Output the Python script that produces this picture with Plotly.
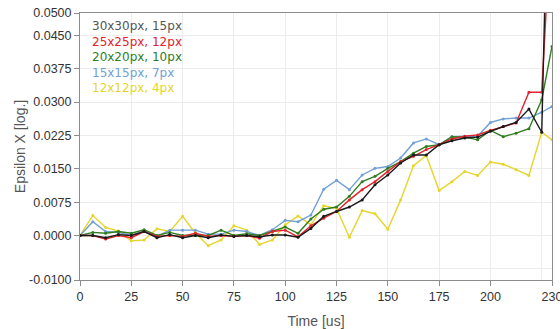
import plotly.graph_objects as go

time_us = [0, 6.25, 12.5, 18.75, 25, 31.25, 37.5, 43.75, 50, 56.25, 62.5, 68.75,
           75, 81.25, 87.5, 93.75, 100, 106.25, 112.5, 118.75, 125, 131.25, 137.5,
           143.75, 150, 156.25, 162.5, 168.75, 175, 181.25, 187.5, 193.75, 200,
           206.25, 212.5, 218.75, 225, 230]

s30 = [0, 0, -0.0005, 0.0002, 0, 0.0009, -0.0005, 0.0002, -0.0005, 0, -0.0005, 0.0001,
       -0.0002, 0, -0.0003, 0.0001, 0.0001, -0.0004, 0.0016, 0.0043, 0.0054, 0.0064,
       0.008, 0.0114, 0.0136, 0.0163, 0.0181, 0.0181, 0.0204, 0.0213, 0.0219, 0.0221,
       0.0234, 0.0245, 0.0254, 0.0284, 0.0232, 0.12]
s25 = [0, 0, -0.0008, 0, -0.0005, 0.0009, -0.0002, 0, -0.0002, 0.0005, -0.0002, 0,
       -0.0002, 0, -0.0006, 0.0009, 0.0012, -0.0003, 0.0022, 0.0039, 0.0054, 0.008,
       0.0103, 0.0121, 0.0144, 0.0166, 0.0178, 0.0193, 0.0204, 0.0217, 0.0223, 0.0226,
       0.0236, 0.0245, 0.0253, 0.0322, 0.0322, 0.075]
s20 = [0, 0.0007, 0.0005, 0.0009, 0.0005, 0.0013, 0, 0.0007, 0, 0.0001, 0, 0.0012,
       0, 0.0004, 0, 0.0009, 0.0019, 0.0005, 0.0037, 0.0059, 0.0064, 0.0088, 0.0121,
       0.0133, 0.0151, 0.0166, 0.0185, 0.02, 0.0204, 0.0222, 0.0221, 0.0215, 0.0236,
       0.0222, 0.023, 0.024, 0.0305, 0.0425]
s15 = [0, 0.0031, 0.0009, 0.0007, 0, 0.001, -0.0002, 0.0012, 0.0012, 0.0012, 0.0003,
       0.0003, 0.0012, 0.0009, 0, 0.0013, 0.0034, 0.0031, 0.0046, 0.0104, 0.0124,
       0.0103, 0.0136, 0.0151, 0.0155, 0.0174, 0.0208, 0.0217, 0.0204, 0.0222, 0.0223,
       0.0223, 0.0254, 0.0262, 0.0264, 0.0264, 0.0277, 0.029]
s12 = [0, 0.0045, 0.0018, 0.001, -0.0012, -0.001, 0.0015, 0.0009, 0.0043, 0.0005,
       -0.0023, -0.001, 0.0022, 0.0012, -0.002, -0.001, 0.0024, 0.0044, 0.0024, 0.0067,
       0.0061, -0.0004, 0.0056, 0.0049, 0.0014, 0.008, 0.0157, 0.018, 0.0101, 0.0121,
       0.0144, 0.0135, 0.0165, 0.016, 0.0148, 0.0135, 0.0232, 0.0215]

names = ["30x30px, 15px", "25x25px, 12px", "20x20px, 10px", "15x15px, 7px", "12x12px, 4px"]
series = [s30, s25, s20, s15, s12]
line_colors = ["#1a1a1a", "#e3222c", "#2f7d1f", "#719fd6", "#e6d52a"]
text_colors = ["#555555", "#e3222c", "#2f7d1f", "#719fd6", "#e6d52a"]

y_tickvals = [-0.01, 0, 0.0075, 0.015, 0.0225, 0.03, 0.0375, 0.045, 0.05]
y_ticktext = ["-0.0100", "0.0000", "0.0075", "0.0150", "0.0225", "0.0300", "0.0375", "0.0450", "0.0500"]
x_tickvals = [0, 25, 50, 75, 100, 125, 150, 175, 200, 230]
x_ticktext = ["0", "25", "50", "75", "100", "125", "150", "175", "200", "230"]

fig = go.Figure()
for i in reversed(range(len(series))):
    fig.add_trace(go.Scatter(
        x=time_us, y=series[i], mode="lines+markers", name=names[i],
        line=dict(color=line_colors[i], width=1.4),
        marker=dict(color=line_colors[i], size=3),
        showlegend=False, cliponaxis=True))

for i, n in enumerate(names):
    fig.add_annotation(text=n, xref="paper", yref="paper", x=0.022, y=0.985 - i * 0.0585,
                       xanchor="left", yanchor="top", showarrow=False,
                       font=dict(family="DejaVu Sans", size=12, color=text_colors[i]))

axis_common = dict(showline=True, linecolor="#8c8c8c", linewidth=1, mirror=True,
                   gridcolor="#ececec", gridwidth=1, zeroline=False, automargin=False,
                   ticks="outside", ticklen=5, tickcolor="#8c8c8c",
                   ticklabeloverflow="allow",
                   tickfont=dict(family="Liberation Sans, Arial", size=12.5, color="#333333"))

fig.update_layout(
    width=560, height=329,
    margin=dict(l=80, r=8, t=13, b=49),
    paper_bgcolor="white", plot_bgcolor="white",
    xaxis=dict(range=[0, 230], tickvals=x_tickvals, ticktext=x_ticktext,
               minor=dict(tickvals=[225], showgrid=True, gridcolor="#ececec", ticks=""),
               title=dict(text="Time [us]", standoff=13,
                          font=dict(family="Liberation Sans, Arial", size=14, color="#555555")),
               **axis_common),
    yaxis=dict(range=[-0.01, 0.05], tickvals=y_tickvals, ticktext=y_ticktext,
               minor=dict(tickvals=[-0.0075], showgrid=True, gridcolor="#ececec", ticks=""),
               title=dict(text="Epsilon X [log.]", standoff=0,
                          font=dict(family="Liberation Sans, Arial", size=14, color="#555555")),
               **axis_common),
    font=dict(family="Liberation Sans, Arial"),
)

# Remove the default 8px page margin so the 560x329 figure fills the window.
fig.write_html("out.html", config={"displayModeBar": False},
               post_script="document.body.style.margin='0';document.body.style.overflow='hidden';")
